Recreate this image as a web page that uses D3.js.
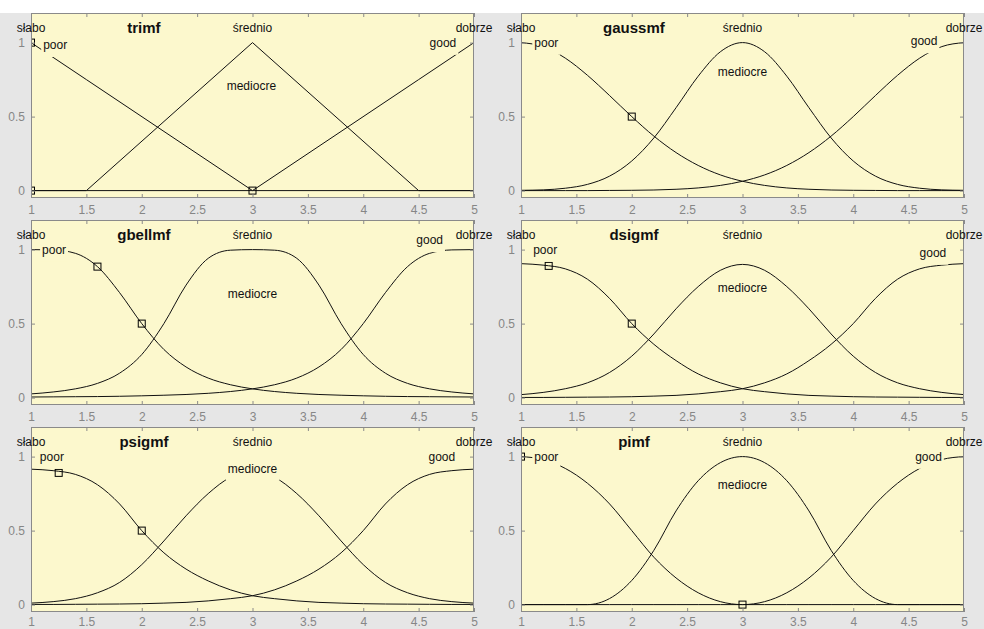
<!DOCTYPE html>
<html><head><meta charset="utf-8">
<script src="https://cdn.jsdelivr.net/npm/d3@7"></script>
<style>
body{margin:0;padding:0;background:#e6e6e6;}
svg{display:block;font-family:"Liberation Sans",Arial,sans-serif;}
</style></head>
<body>
<svg id="chart" width="984" height="629"></svg>
<script>
// ---------- DATA ----------
const xTicks = [1, 1.5, 2, 2.5, 3, 3.5, 4, 4.5, 5];
const yTicks = [0, 0.5, 1];
const panelTitles = ["trimf", "gaussmf", "gbellmf", "dsigmf", "psigmf", "pimf"];
const termNamesEN = ["poor", "mediocre", "good"];
const termNamesPL = ["słabo", "średnio", "dobrze"];
const termCentersPL = [1, 3, 5];

// trimf breakpoints
const trimfX = [1, 1.5, 3, 4.5, 5];
const trimfPoor = [1, 0.75, 0, 0, 0];
const trimfMediocre = [0, 0, 1, 0, 0];
const trimfGood = [0, 0, 0, 0.75, 1];

// sampled x for smooth functions
const sampleX = [1, 1.2, 1.4, 1.6, 1.8, 2, 2.2, 2.4, 2.6, 2.8, 3, 3.2, 3.4, 3.6, 3.8, 4, 4.2, 4.4, 4.6, 4.8, 5];

const gaussPoor = [1, 0.973, 0.895, 0.779, 0.642, 0.5, 0.368, 0.257, 0.170, 0.106, 0.063, 0.035, 0.018, 0.009, 0.004, 0.002, 0.001, 0, 0, 0, 0];
const gaussMediocre = [0.002, 0.005, 0.016, 0.042, 0.098, 0.2, 0.356, 0.56, 0.773, 0.938, 1, 0.938, 0.773, 0.56, 0.356, 0.2, 0.098, 0.042, 0.016, 0.005, 0.002];
const gaussGood = [0, 0, 0, 0, 0.001, 0.002, 0.004, 0.009, 0.018, 0.035, 0.063, 0.106, 0.170, 0.257, 0.368, 0.5, 0.642, 0.779, 0.895, 0.973, 1];

const gbellPoor = [1, 0.998, 0.975, 0.885, 0.709, 0.5, 0.325, 0.207, 0.132, 0.087, 0.059, 0.041, 0.029, 0.021, 0.016, 0.012, 0.009, 0.007, 0.006, 0.005, 0.004];
const gbellMediocre = [0.025, 0.038, 0.059, 0.096, 0.165, 0.291, 0.5, 0.76, 0.941, 0.996, 1, 0.996, 0.941, 0.76, 0.5, 0.291, 0.165, 0.096, 0.059, 0.038, 0.025];
const gbellGood = [0.004, 0.005, 0.006, 0.007, 0.009, 0.012, 0.016, 0.021, 0.029, 0.041, 0.059, 0.087, 0.132, 0.207, 0.325, 0.5, 0.709, 0.885, 0.975, 0.998, 1];

const dsigPoor = [0.905, 0.895, 0.87, 0.80, 0.67, 0.50, 0.36, 0.25, 0.16, 0.10, 0.06, 0.04, 0.025, 0.015, 0.01, 0.006, 0.004, 0.003, 0.002, 0.001, 0.001];
const dsigMediocre = [0.02, 0.035, 0.06, 0.10, 0.17, 0.28, 0.43, 0.60, 0.75, 0.86, 0.90, 0.86, 0.75, 0.60, 0.43, 0.28, 0.17, 0.10, 0.06, 0.035, 0.02];
const dsigGood = [0.001, 0.001, 0.002, 0.003, 0.004, 0.006, 0.01, 0.015, 0.025, 0.04, 0.06, 0.10, 0.16, 0.25, 0.36, 0.50, 0.67, 0.80, 0.87, 0.895, 0.905];

const psigPoor = [0.915, 0.905, 0.88, 0.81, 0.68, 0.50, 0.35, 0.24, 0.16, 0.10, 0.06, 0.04, 0.025, 0.015, 0.01, 0.006, 0.004, 0.003, 0.002, 0.001, 0.001];
const psigMediocre = [0.01, 0.02, 0.04, 0.08, 0.15, 0.27, 0.43, 0.60, 0.75, 0.86, 0.90, 0.86, 0.75, 0.60, 0.43, 0.27, 0.15, 0.08, 0.04, 0.02, 0.01];
const psigGood = [0.001, 0.001, 0.002, 0.003, 0.004, 0.006, 0.01, 0.015, 0.025, 0.04, 0.06, 0.10, 0.16, 0.24, 0.35, 0.50, 0.68, 0.81, 0.88, 0.905, 0.915];

const piPoor = [1, 0.98, 0.92, 0.82, 0.68, 0.5, 0.32, 0.18, 0.08, 0.02, 0, 0, 0, 0, 0, 0, 0, 0, 0, 0, 0];
const piMediocre = [0, 0, 0, 0, 0.041, 0.163, 0.367, 0.633, 0.837, 0.959, 1, 0.959, 0.837, 0.633, 0.367, 0.163, 0.041, 0, 0, 0, 0];
const piGood = [0, 0, 0, 0, 0, 0, 0, 0, 0, 0, 0, 0.02, 0.08, 0.18, 0.32, 0.5, 0.68, 0.82, 0.92, 0.98, 1];

// parameter handle markers (x, y)
const trimfHandles = [[1, 1], [1, 0], [3, 0]];
const gaussHandles = [[2, 0.5]];
const gbellHandles = [[1.6, 0.885], [2, 0.5]];
const dsigHandles = [[1.25, 0.89], [2, 0.5]];
const psigHandles = [[1.25, 0.89], [2, 0.5]];
const piHandles = [[1, 1], [3, 0]];

// ---------- LAYOUT / STYLE ----------
const W = 984, H = 629;
const colLeft = [31, 521], panelW = 443;
const rowTop = [13, 220, 427], panelH = 185;
const bgFig = "#e6e6e6", bgAxes = "#fcf8cd", axisGray = "#8a8a8a";
const fontFam = '"Liberation Sans", Arial, sans-serif';

// label placement per panel: poor [x start, y], mediocre [x center, y], good [x end, y]
const labelPlace = [
  {poor: [1.11, 0.985], mediocre: [2.99, 0.71], good: [4.84, 1.0]},
  {poor: [1.12, 1.0], mediocre: [3.0, 0.80], good: [4.76, 1.01]},
  {poor: [1.10, 1.0], mediocre: [3.0, 0.70], good: [4.72, 1.065]},
  {poor: [1.11, 1.0], mediocre: [3.0, 0.74], good: [4.84, 0.98]},
  {poor: [1.08, 1.0], mediocre: [3.0, 0.92], good: [4.83, 1.0]},
  {poor: [1.12, 1.0], mediocre: [3.0, 0.81], good: [4.80, 1.0]}
];

const panels = [
  {x: trimfX, series: [trimfPoor, trimfMediocre, trimfGood], handles: trimfHandles, curve: d3.curveLinear},
  {x: sampleX, series: [gaussPoor, gaussMediocre, gaussGood], handles: gaussHandles, curve: d3.curveMonotoneX},
  {x: sampleX, series: [gbellPoor, gbellMediocre, gbellGood], handles: gbellHandles, curve: d3.curveMonotoneX},
  {x: sampleX, series: [dsigPoor, dsigMediocre, dsigGood], handles: dsigHandles, curve: d3.curveMonotoneX},
  {x: sampleX, series: [psigPoor, psigMediocre, psigGood], handles: psigHandles, curve: d3.curveMonotoneX},
  {x: sampleX, series: [piPoor, piMediocre, piGood], handles: piHandles, curve: d3.curveMonotoneX}
];

const svg = d3.select("#chart");
svg.append("rect").attr("width", W).attr("height", H).attr("fill", bgFig);
svg.append("rect").attr("width", W).attr("height", 13).attr("fill", "#ffffff");

panels.forEach((p, i) => {
  const col = i % 2, row = Math.floor(i / 2);
  const L = colLeft[col], T = rowTop[row];
  const x = d3.scaleLinear().domain([1, 5]).range([L, L + panelW]);
  const y = d3.scaleLinear().domain([-0.05, 1.2]).range([T + panelH, T]);
  const g = svg.append("g");

  g.append("rect").attr("x", L).attr("y", T).attr("width", panelW).attr("height", panelH).attr("fill", bgAxes);

  const clipId = "clip" + i;
  g.append("clipPath").attr("id", clipId).append("rect")
    .attr("x", L).attr("y", T).attr("width", panelW).attr("height", panelH);

  const plot = g.append("g").attr("clip-path", `url(#${clipId})`);
  const line = d3.line().x(d => x(d[0])).y(d => y(d[1])).curve(p.curve);
  p.series.forEach(s => {
    plot.append("path").datum(p.x.map((xv, k) => [xv, s[k]]))
      .attr("d", line).attr("fill", "none").attr("stroke", "#111").attr("stroke-width", 1);
  });
  p.handles.forEach(h => {
    plot.append("rect").attr("x", x(h[0]) - 3.5).attr("y", y(h[1]) - 3.5)
      .attr("width", 7).attr("height", 7).attr("fill", "none").attr("stroke", "#000").attr("stroke-width", 1);
  });

  // axes (inward ticks)
  const styleAxis = sel => {
    sel.select(".domain").remove();
    sel.selectAll(".tick line").attr("stroke", axisGray);
    sel.selectAll(".tick text").attr("fill", "#868686").attr("font-size", 12).attr("font-family", fontFam);
  };
  g.append("g").attr("transform", `translate(0,${T + panelH})`)
    .call(d3.axisBottom(x).tickValues(xTicks).tickSizeInner(-4).tickSizeOuter(0).tickPadding(row === 2 ? 5 : 7).tickFormat(d3.format("")))
    .call(styleAxis);
  g.append("g").attr("transform", `translate(0,${T})`)
    .call(d3.axisTop(x).tickValues(xTicks).tickSizeInner(-4).tickSizeOuter(0).tickFormat(""))
    .call(styleAxis);
  g.append("g").attr("transform", `translate(${L},0)`)
    .call(d3.axisLeft(y).tickValues(yTicks).tickSizeInner(-4).tickSizeOuter(0).tickPadding(6).tickFormat(d3.format("")))
    .call(styleAxis);
  g.append("g").attr("transform", `translate(${L + panelW},0)`)
    .call(d3.axisRight(y).tickValues(yTicks).tickSizeInner(-4).tickSizeOuter(0).tickFormat(""))
    .call(styleAxis);

  g.append("rect").attr("x", L + 0.5).attr("y", T + 0.5).attr("width", panelW - 1).attr("height", panelH - 1)
    .attr("fill", "none").attr("stroke", axisGray).attr("stroke-width", 1);

  // English term labels with background (covers curves and handles beneath)
  const lp = labelPlace[i];
  const addLabel = (txt, pos, anchor) => {
    const t = g.append("text").attr("x", x(pos[0])).attr("y", y(pos[1])).attr("dy", "0.35em")
      .attr("text-anchor", anchor).attr("font-size", 12).attr("font-family", fontFam).attr("fill", "#111").text(txt);
    const bb = t.node().getBBox();
    g.insert("rect", () => t.node()).attr("x", bb.x - 2).attr("y", bb.y - 1)
      .attr("width", bb.width + 4).attr("height", bb.height + 6).attr("fill", bgAxes);
  };
  addLabel(termNamesEN[0], lp.poor, "start");
  addLabel(termNamesEN[1], lp.mediocre, "middle");
  addLabel(termNamesEN[2], lp.good, "end");

  // Polish term labels
  termNamesPL.forEach((n, k) => {
    g.append("text").attr("x", x(termCentersPL[k])).attr("y", y(1.1)).attr("dy", "0.35em")
      .attr("text-anchor", "middle").attr("font-size", 12).attr("font-family", fontFam).attr("fill", "#111").text(n);
  });

  // title
  g.append("text").attr("x", x(2.02)).attr("y", y(1.1)).attr("dy", "0.35em")
    .attr("text-anchor", "middle").attr("font-size", 15).attr("font-weight", "bold")
    .attr("font-family", fontFam).attr("fill", "#111").text(panelTitles[i]);
});
</script>
</body></html>
